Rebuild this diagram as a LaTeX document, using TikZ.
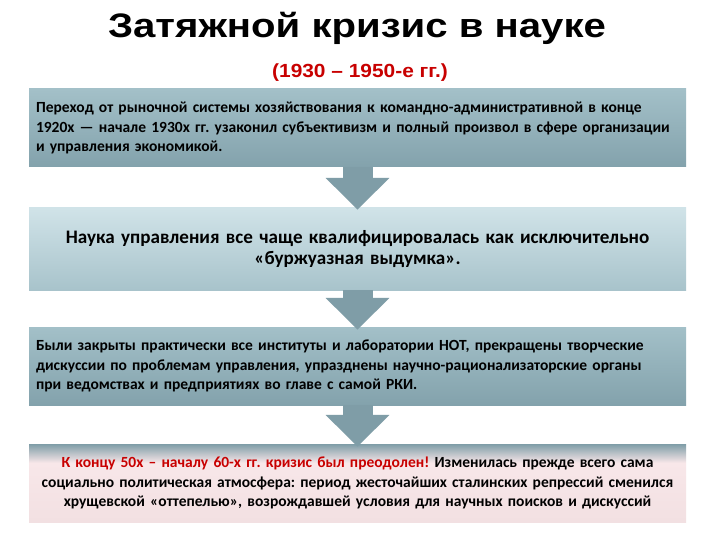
\documentclass[tikz,border=0pt]{standalone}
\usepackage{fontspec}
\setmainfont{Carlito}
\newfontfamily\titlefont{Liberation Sans}
\usetikzlibrary{arrows.meta}
\frenchspacing

\definecolor{slatetop}{HTML}{A3C0C8}
\definecolor{slatebot}{HTML}{83A2AC}
\definecolor{palettop}{HTML}{D0E3E8}
\definecolor{palebot}{HTML}{A8C3CB}
\definecolor{arrowgrey}{HTML}{7F9DA7}
\definecolor{pinktop}{HTML}{F8E7E9}
\definecolor{pinkbot}{HTML}{F2E0E2}
\definecolor{krizisred}{HTML}{C80000}

\pgfdeclareverticalshading{krizisshade}{100bp}{color(0bp)=(pinkbot); color(25bp)=(pinkbot); color(63bp)=(pinktop); color(75bp)=(arrowgrey); color(100bp)=(arrowgrey)}

\begin{document}
\begin{tikzpicture}[x=1pt, y=-1pt,
    box/.style={minimum width=657pt, minimum height=78pt, inner sep=0pt, text width=643pt,
        font=\bfseries\fontsize{15.5}{19.5}\selectfont},
    darkbox/.style={box, align=left, top color=slatetop, bottom color=slatebot},
    palebox/.style={box, align=center, minimum height=82pt, top color=palettop, bottom color=palebot,
        font=\bfseries\fontsize{19.1}{21.5}\selectfont},
    endbox/.style={box, align=center, shading=krizisshade},
    flow/.style={draw=arrowgrey, line width=30pt, -{Triangle[width=62pt, length=32pt]}}]

    \useasboundingbox[fill=white] (0,0) rectangle (720,540);

    % title
    \node (titel) at (357,28) {\titlefont\bfseries\fontsize{34}{40}\selectfont\scalebox{1.18}[1]{Затяжной кризис в науке}};
    \node[text=krizisred] (period) at (360,73) {\titlefont\bfseries\fontsize{19}{22}\selectfont\scalebox{1.1}[1]{(1930 – 1950-е гг.)}};

    % boxes
    \node[darkbox] (perehod) at (357.5,128) {Переход от рыночной системы хозяйствования к командно-административной в конце\\
        1920х — начале 1930х гг. узаконил субъективизм и полный произвол в сфере организации\\
        и управления экономикой.};
    \node[palebox] (nauka) at (357.5,249) {Наука управления все чаще квалифицировалась как исключительно\\
        «буржуазная выдумка».};
    \node[darkbox] (zakryty) at (357.5,366) {Были закрыты практически все институты и лаборатории НОТ, прекращены творческие\\
        дискуссии по проблемам управления, упразднены научно-рационализаторские органы\\
        при ведомствах и предприятиях во главе с самой РКИ.};
    \node[endbox] (krizis) at (357.5,483) {\textcolor{krizisred}{К концу 50х – началу 60-х гг. кризис был преодолен!} Изменилась прежде всего сама\\
        социально политическая атмосфера: период жесточайших сталинских репрессий сменился\\
        хрущевской «оттепелью», возрождавшей условия для научных поисков и дискуссий};

    % arrows
    \draw[flow] (perehod.south) -- ([yshift=-2pt]nauka.north);
    \draw[flow] (nauka.south) -- ([yshift=-3pt]zakryty.north);
    \draw[flow] (zakryty.south) -- ([yshift=-3pt]krizis.north);
\end{tikzpicture}
\end{document}
